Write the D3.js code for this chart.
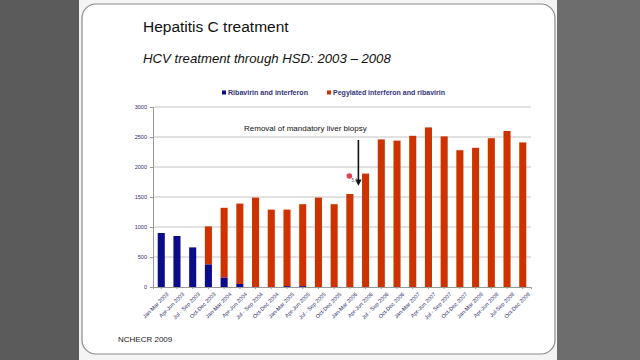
<!DOCTYPE html>
<html>
<head>
<meta charset="utf-8">
<script src="https://cdn.jsdelivr.net/npm/d3@7"></script>
<style>
  body { margin: 0; background: #5b5b5b; }
  svg { display: block; font-family: "Liberation Sans", Arial, sans-serif; }
</style>
</head>
<body>
<svg id="chart" width="640" height="360"></svg>
<script>
const quarters = ["Jan-Mar 2003", "Apr-Jun 2003", "Jul - Sep 2003", "Oct-Dec 2003",
    "Jan-Mar 2004", "Apr-Jun 2004", "Jul - Sep 2004", "Oct-Dec 2004",
    "Jan-Mar 2005", "Apr-Jun 2005", "Jul - Sep 2005", "Oct-Dec 2005",
    "Jan-Mar 2006", "Apr-Jun 2006", "Jul - Sep 2006", "Oct-Dec 2006",
    "Jan-Mar 2007", "Apr-Jun 2007", "Jul - Sep 2007", "Oct-Dec 2007",
    "Jan-Mar 2008", "Apr-Jun 2008", "Jul-Sep 2008", "Oct-Dec 2008"];
const ribavirin = [900, 850, 660, 378, 160, 50, 0, 0, 15, 15, 0, 0,
    0, 0, 0, 0, 0, 0, 0, 0, 0, 0, 0, 0];
const pegylated = [0, 0, 0, 632, 1160, 1340, 1490, 1290, 1275, 1365, 1490, 1380,
    1550, 1890, 2460, 2440, 2520, 2660, 2510, 2280, 2320, 2480, 2600, 2410];
const yTicks = [0, 500, 1000, 1500, 2000, 2500, 3000];
const seriesNames = ["Ribavirin and interferon", "Pegylated interferon and ribavirin"];
const colors = ["#0b0b8c", "#cc3300"];
const annotationQuarter = "Jan-Mar 2006";

const svg = d3.select("#chart");

// right side of the screen is a bit lighter
svg.append("rect").attr("x", 556).attr("y", 0).attr("width", 84).attr("height", 360).attr("fill", "#6d6d6d");
svg.append("rect").attr("x", 79).attr("y", 0).attr("width", 478).attr("height", 360).attr("fill", "#f4f4f4");
svg.append("rect")
    .attr("x", 82).attr("y", 4).attr("width", 473).attr("height", 350)
    .attr("rx", 14)
    .attr("fill", "#fff")
    .attr("stroke", "#8a8a8a")
    .attr("stroke-width", 1.2);

svg.append("text").text("Hepatitis C treatment")
    .attr("x", 143).attr("y", 32)
    .attr("font-size", 15.5).attr("fill", "#111");
svg.append("text").text("HCV treatment through HSD: 2003 \u2013 2008")
    .attr("x", 143).attr("y", 63)
    .attr("font-size", 13.2).attr("font-style", "italic").attr("fill", "#111");
svg.append("text").text("NCHECR 2009")
    .attr("x", 118).attr("y", 342)
    .attr("font-size", 8).attr("fill", "#222");

const margin = {left: 153, top: 107, right: 109, bottom: 73};
const width = 640 - margin.left - margin.right;
const height = 360 - margin.top - margin.bottom;

const x = d3.scaleBand().domain(quarters).range([0, width]).paddingInner(0.55).paddingOuter(0.3);
const y = d3.scaleLinear().domain([0, 3000]).range([height, 0]);

const g = svg.append("g").attr("transform", `translate(${margin.left},${margin.top})`);

g.selectAll(".grid").data(yTicks.filter(d => d > 0)).join("line")
    .attr("x1", 0).attr("x2", width)
    .attr("y1", d => y(d)).attr("y2", d => y(d))
    .attr("stroke", "#c4c4c4").attr("stroke-width", 1);

const yAxis = g.append("g").call(d3.axisLeft(y).tickValues(yTicks).tickSize(3).tickFormat(d3.format("d")));
yAxis.selectAll("text").attr("font-size", 5.5).attr("fill", "#2a2a6a");
yAxis.selectAll("line").attr("stroke", "#999");
yAxis.select(".domain").attr("stroke", "#999");

const stackData = quarters.map((q, i) => ({q: q, rib: ribavirin[i], peg: pegylated[i]}));
const stack = d3.stack().keys(["rib", "peg"])(stackData);

g.selectAll(".series").data(stack).join("g")
    .attr("fill", (d, i) => colors[i])
    .selectAll("rect").data(d => d).join("rect")
    .attr("x", d => x(d.data.q))
    .attr("width", x.bandwidth())
    .attr("y", d => y(d[1]))
    .attr("height", d => y(d[0]) - y(d[1]));

const xAxis = g.append("g").attr("transform", `translate(0,${height})`)
    .call(d3.axisBottom(x).tickSize(2));
xAxis.select(".domain").attr("stroke", "#999");
xAxis.selectAll("line").attr("stroke", "#999");
xAxis.selectAll("text")
    .attr("font-size", 5.5).attr("fill", "#2a2a6a")
    .attr("text-anchor", "end")
    .attr("dy", "0.3em")
    .attr("transform", "translate(3,3) rotate(-45)");

// legend
const legend = svg.append("g").attr("transform", "translate(222,95)");
const legendX = [0, 105];
const legendW = [80, 112];
seriesNames.forEach((name, i) => {
    legend.append("rect").attr("x", legendX[i]).attr("y", -4.5).attr("width", 4).attr("height", 4).attr("fill", colors[i]);
    legend.append("text").text(name)
        .attr("x", legendX[i] + 6).attr("y", 0)
        .attr("textLength", legendW[i]).attr("lengthAdjust", "spacingAndGlyphs")
        .attr("font-size", 7.5).attr("font-weight", "bold").attr("fill", "#33337a");
});

// annotation
const ax = margin.left + x(annotationQuarter) + x.bandwidth() + 5;
svg.append("text").text("Removal of mandatory liver biopsy")
    .attr("x", 244).attr("y", 131)
    .attr("font-size", 8).attr("fill", "#111");
svg.append("defs").append("marker")
    .attr("id", "arrow").attr("viewBox", "0 0 10 10")
    .attr("refX", 5).attr("refY", 5)
    .attr("markerWidth", 4).attr("markerHeight", 4)
    .attr("orient", "auto")
    .append("path").attr("d", "M0,0L10,5L0,10z").attr("fill", "#111");
svg.append("line")
    .attr("x1", ax).attr("x2", ax)
    .attr("y1", 140).attr("y2", margin.top + y(1740))
    .attr("stroke", "#111").attr("stroke-width", 1.6)
    .attr("marker-end", "url(#arrow)");
svg.append("circle").attr("cx", ax - 9).attr("cy", 176).attr("r", 2.8).attr("fill", "#e8404a");
svg.append("text").text("5.1").attr("x", ax - 7).attr("y", 182).attr("font-size", 4.5).attr("fill", "#555");
</script>
</body>
</html>
